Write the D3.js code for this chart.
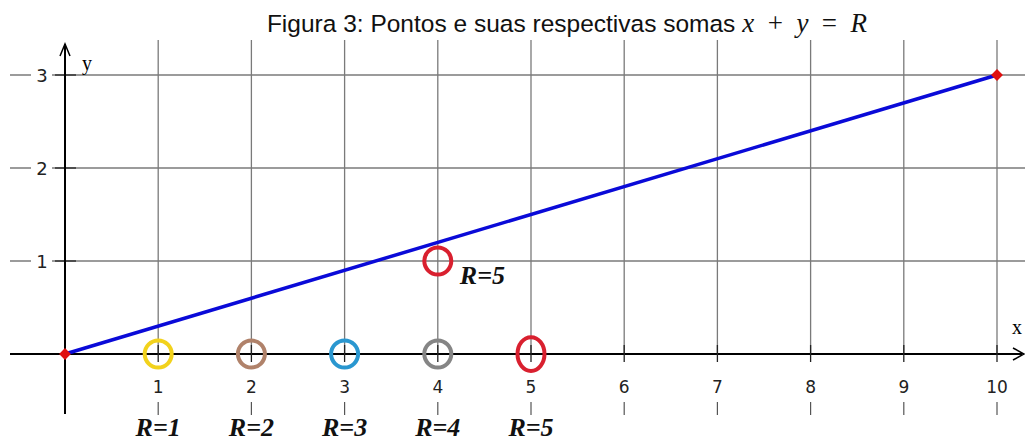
<!DOCTYPE html>
<html>
<head>
<meta charset="utf-8">
<script src="https://cdn.jsdelivr.net/npm/d3@7"></script>
<style>
  body { margin: 0; background: #fff; }
  svg { display: block; }
</style>
</head>
<body>
<script>
// data
var xTicks = [1, 2, 3, 4, 5, 6, 7, 8, 9, 10];
var yTicks = [1, 2, 3];
var linePoints = [[0, 0], [10, 3]];
var circlePoints = [
  { x: 1, y: 0, color: "#f2d21c", label: "R=1", ry: 1 },
  { x: 2, y: 0, color: "#b0826a", label: "R=2", ry: 1 },
  { x: 3, y: 0, color: "#2a97d0", label: "R=3", ry: 1 },
  { x: 4, y: 0, color: "#858585", label: "R=4", ry: 1 },
  { x: 5, y: 0, color: "#d9202f", label: "R=5", ry: 1.25 },
  { x: 4, y: 1, color: "#d9202f", label: "R=5", ry: 1 }
];

var width = 1025, height = 443;

var svg = d3.select("body").append("svg")
  .attr("width", width)
  .attr("height", height);

var x = d3.scaleLinear().domain([0, 10]).range([65, 997]);
var y = d3.scaleLinear().domain([0, 3]).range([354, 75]);

// title
var title = svg.append("text")
  .attr("x", 567)
  .attr("y", 32)
  .attr("text-anchor", "middle")
  .style("font-family", "Liberation Sans, Arial, sans-serif")
  .style("font-size", "24.5px")
  .attr("fill", "#111");
title.append("tspan").text("Figura 3: Pontos e suas respectivas somas ");
var mathPart = [["x", true], ["\u2002+\u2002", false], ["y", true], ["\u2002=\u2002", false], ["R", true]];
mathPart.forEach(function (m) {
  title.append("tspan")
    .style("font-family", "Liberation Serif, serif")
    .style("font-size", "27px")
    .style("font-style", m[1] ? "italic" : "normal")
    .text(m[0]);
});

// grid
var grid = svg.append("g");
grid.selectAll("line.v").data(xTicks).enter().append("line")
  .attr("x1", function (d) { return x(d); })
  .attr("x2", function (d) { return x(d); })
  .attr("y1", 40)
  .attr("y2", y(0))
  .attr("stroke", "#7a7a7a")
  .attr("stroke-width", 1.3);
grid.selectAll("line.h").data(yTicks).enter().append("line")
  .attr("x1", 10)
  .attr("x2", width)
  .attr("y1", function (d) { return y(d); })
  .attr("y2", function (d) { return y(d); })
  .attr("stroke", "#7a7a7a")
  .attr("stroke-width", 1.3);

// y tick labels with white background
var yLab = svg.append("g");
yLab.selectAll("rect").data(yTicks).enter().append("rect")
  .attr("x", 31)
  .attr("y", function (d) { return y(d) - 11; })
  .attr("width", 21)
  .attr("height", 22)
  .attr("fill", "#fff");
yLab.selectAll("text").data(yTicks).enter().append("text")
  .attr("x", 42)
  .attr("y", function (d) { return y(d) + 7; })
  .attr("text-anchor", "middle")
  .style("font-family", "DejaVu Sans, sans-serif")
  .style("font-size", "18px")
  .attr("fill", "#222")
  .text(function (d) { return d; });
yLab.selectAll("line").data(yTicks).enter().append("line")
  .attr("x1", 55).attr("x2", 76)
  .attr("y1", function (d) { return y(d); })
  .attr("y2", function (d) { return y(d); })
  .attr("stroke", "#222").attr("stroke-width", 1.3);

// axes
svg.append("line")
  .attr("x1", 10).attr("x2", 1022)
  .attr("y1", y(0)).attr("y2", y(0))
  .attr("stroke", "#000").attr("stroke-width", 2);
svg.append("line")
  .attr("x1", x(0)).attr("x2", x(0))
  .attr("y1", 44).attr("y2", 414)
  .attr("stroke", "#000").attr("stroke-width", 2);
// arrows
svg.append("path")
  .attr("d", "M" + (x(0) - 5) + ",56 L" + x(0) + ",44 L" + (x(0) + 5) + ",56")
  .attr("fill", "none").attr("stroke", "#000").attr("stroke-width", 1.5);
svg.append("path")
  .attr("d", "M1013," + (y(0) - 6) + " L1024," + y(0) + " L1013," + (y(0) + 6))
  .attr("fill", "none").attr("stroke", "#000").attr("stroke-width", 1.5);
svg.append("text")
  .attr("x", 82).attr("y", 70)
  .style("font-family", "Liberation Serif, serif")
  .style("font-size", "20px")
  .text("y");
svg.append("text")
  .attr("x", 1012).attr("y", 334)
  .style("font-family", "Liberation Serif, serif")
  .style("font-size", "20px")
  .text("x");

// x ticks & labels
var xt = svg.append("g");
xt.selectAll("line.t").data(xTicks).enter().append("line")
  .attr("x1", function (d) { return x(d); })
  .attr("x2", function (d) { return x(d); })
  .attr("y1", 345).attr("y2", 362)
  .attr("stroke", "#222").attr("stroke-width", 1.3);
xt.selectAll("line.b").data(xTicks).enter().append("line")
  .attr("x1", function (d) { return x(d); })
  .attr("x2", function (d) { return x(d); })
  .attr("y1", 402).attr("y2", 415)
  .attr("stroke", "#555").attr("stroke-width", 1.2);
xt.selectAll("text").data(xTicks).enter().append("text")
  .attr("x", function (d) { return x(d); })
  .attr("y", 393)
  .attr("text-anchor", "middle")
  .style("font-family", "DejaVu Sans, sans-serif")
  .style("font-size", "17px")
  .attr("fill", "#222")
  .text(function (d) { return d; });

// blue line
svg.append("path")
  .datum(linePoints)
  .attr("d", d3.line().x(function (d) { return x(d[0]); }).y(function (d) { return y(d[1]); }))
  .attr("fill", "none")
  .attr("stroke", "#0a0ad8")
  .attr("stroke-width", 3.5);

// red endpoints
svg.selectAll("path.dot").data(linePoints).enter().append("path")
  .attr("d", d3.symbol().type(d3.symbolSquare).size(70))
  .attr("transform", function (d) { return "translate(" + x(d[0]) + "," + y(d[1]) + ") rotate(45)"; })
  .attr("fill", "#e01010");

// circles
svg.selectAll("ellipse").data(circlePoints).enter().append("ellipse")
  .attr("cx", function (d) { return x(d.x); })
  .attr("cy", function (d) { return y(d.y); })
  .attr("rx", 13.5)
  .attr("ry", function (d) { return 13.5 * d.ry; })
  .attr("fill", "none")
  .attr("stroke", function (d) { return d.color; })
  .attr("stroke-width", 4);

// R labels
svg.selectAll("text.r").data(circlePoints).enter().append("text")
  .attr("y", function (d) { return d.y === 0 ? 436 : y(d.y) + 23; })
  .style("font-family", "Liberation Serif, serif")
  .style("font-size", "26px")
  .style("font-weight", "bold")
  .style("font-style", "italic")
  .attr("fill", "#111")
  .text(function (d) { return d.label; })
  .attr("x", function (d) {
    var w = this.getComputedTextLength();
    return d.y === 0 ? x(d.x) - w / 2 : x(d.x) + 22;
  });
</script>
</body>
</html>
